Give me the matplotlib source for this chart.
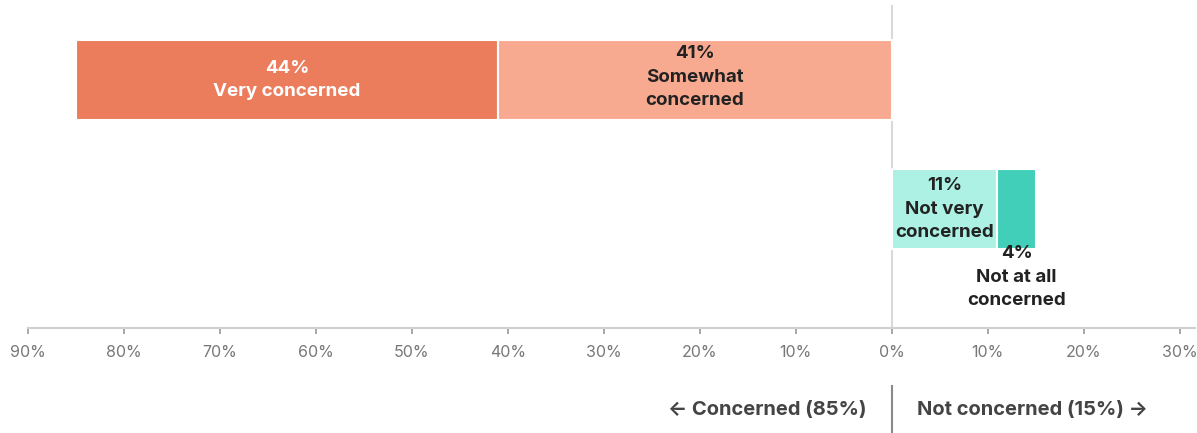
import matplotlib
matplotlib.use("Agg")
import matplotlib.pyplot as plt

# data
rows = [0, 1]
neg_labels = ["Very concerned", "Somewhat concerned"]
neg_values = [44, 41]          # drawn to the left of 0
pos_labels = ["Not very concerned", "Not at all concerned"]
pos_values = [11, 4]           # drawn to the right of 0
ticks = [-90, -80, -70, -60, -50, -40, -30, -20, -10, 0, 10, 20, 30]
tick_labels = ["90%", "80%", "70%", "60%", "50%", "40%", "30%", "20%", "10%", "0%", "10%", "20%", "30%"]

plt.rcParams['font.family'] = ['Inter', 'DejaVu Sans']

fig = plt.figure(figsize=(11.97, 4.33), dpi=100)
ax = fig.add_axes([0.0234, 0.2425, 0.975, 0.746])

bar_h = 0.62
# concerned row (top)
ax.barh(rows[0], -neg_values[0], left=-neg_values[1], height=bar_h, color="#EB7D5C",
        edgecolor="white", linewidth=1.5)
ax.barh(rows[0], -neg_values[1], left=0, height=bar_h, color="#F8AA91",
        edgecolor="white", linewidth=1.5)
# not concerned row (bottom)
ax.barh(rows[1], pos_values[0], left=0, height=bar_h, color="#ACF1E3",
        edgecolor="white", linewidth=1.5)
ax.barh(rows[1], pos_values[1], left=pos_values[0], height=bar_h, color="#42CFBA",
        edgecolor="white", linewidth=1.5)

# labels
lab = dict(fontsize=13.5, fontweight="bold", linespacing=1.5)
ax.text(-neg_values[1] - neg_values[0] / 2, rows[0], "44%\nVery concerned", ha="center", va="center",
        color="white", **lab)
ax.text(-neg_values[1] / 2, rows[0] - 0.02, "41%\nSomewhat\nconcerned", ha="center", va="center",
        color="#222222", **lab)
ax.text(pos_values[0] / 2, rows[1], "11%\nNot very\nconcerned", ha="center", va="center",
        color="#222222", **lab)
ax.text(pos_values[0] + pos_values[1] / 2, rows[1] + bar_h / 2 - 0.03, "4%\nNot at all\nconcerned",
        ha="center", va="top", color="#222222", **lab)

ax.axvline(0, color="#d9d9d9", linewidth=1.5, zorder=0)

ax.set_xlim(-90, 31.6)
ax.set_ylim(1.92, -0.58)
ax.set_xticks(ticks)
ax.set_xticklabels(tick_labels)
ax.set_yticks([])
for s in ["top", "right", "left"]:
    ax.spines[s].set_visible(False)
ax.spines["bottom"].set_color("#d0d0d0")
ax.spines["bottom"].set_linewidth(1.5)
ax.tick_params(axis="x", direction="out", length=4, width=1.2, color="#999999",
               labelcolor="#777777", labelsize=11.5, pad=8)

# bottom side captions
tr = ax.get_xaxis_transform()
ax.plot([0, 0], [-0.18, -0.34], transform=tr, color="#8a8a8a", linewidth=1.5, clip_on=False)
ax.text(-2.6, -0.255, "\u2190 Concerned (85%)", transform=tr, ha="right", va="center",
        color="#444444", fontsize=14.5, fontweight="bold")
ax.text(2.6, -0.255, "Not concerned (15%) \u2192", transform=tr, ha="left", va="center",
        color="#444444", fontsize=14.5, fontweight="bold")

fig.savefig("out.png", dpi=100)
